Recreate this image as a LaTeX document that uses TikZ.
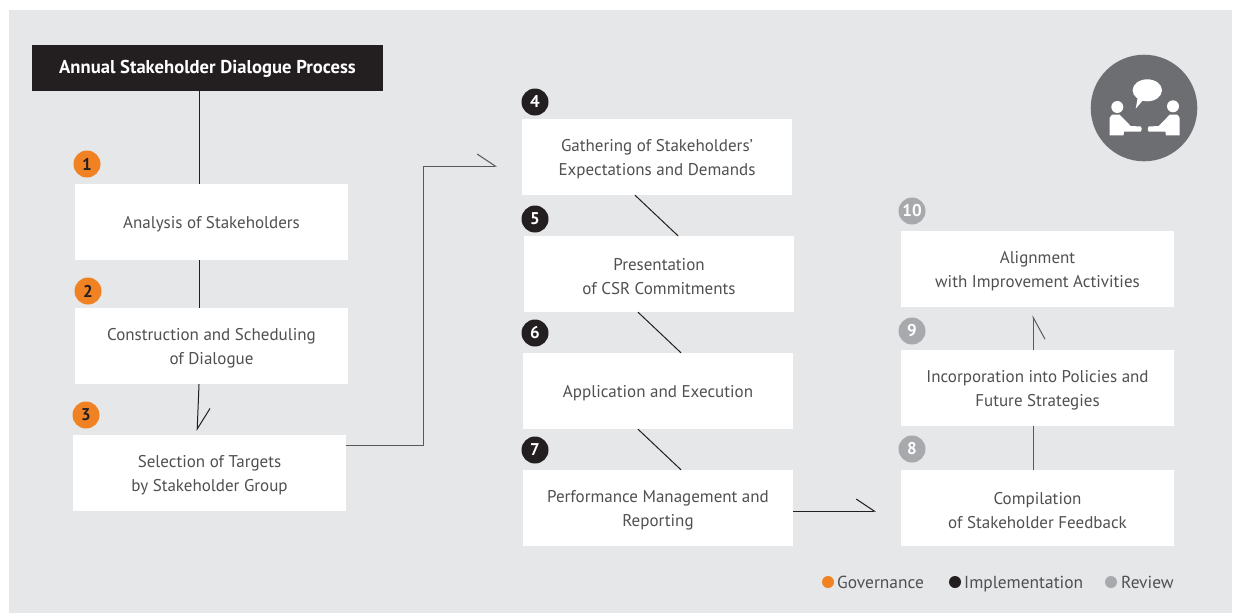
\documentclass[tikz,border=0pt]{standalone}
\usepackage{fontspec}
\setmainfont{PT Sans}
\usetikzlibrary{arrows.meta}
\definecolor{bg}{HTML}{E6E7E8}
\definecolor{ink}{HTML}{231F20}
\definecolor{txt}{HTML}{505052}
\definecolor{orng}{HTML}{F18223}
\definecolor{revw}{HTML}{A7A9AC}
\definecolor{icon}{HTML}{6D6E71}
\definecolor{lgray}{HTML}{58595B}
\tikzset{
  stepbox/.style={fill=white, minimum width=273pt, minimum height=76pt, inner sep=0pt},
  boxtxt/.style={inner sep=0pt, align=center, text=txt, font=\fontsize{17}{24}\selectfont},
  badge/.style={circle, minimum size=27pt, inner sep=0pt, font=\bfseries\fontsize{17}{17}\selectfont},
  gov/.style={badge, fill=orng, text=ink},
  impl/.style={badge, fill=ink, text=white},
  rev/.style={badge, fill=revw, text=white},
  conn/.style={draw=ink, line width=1pt},
  conng/.style={draw=lgray, line width=1pt},
  barb/.style={-{Straight Barb[harpoon, length=#1, width=24pt]}},
  barbsw/.style={-{Straight Barb[harpoon, swap, length=#1, width=24pt]}},
  legdot/.style={circle, minimum size=12pt, inner sep=0pt},
  legtxt/.style={anchor=base west, inner sep=0pt, text=txt, font=\fontsize{17.4}{18}\selectfont},
}
\begin{document}
\begin{tikzpicture}[x=1pt, y=-1pt]
\useasboundingbox (0,0) rectangle (1233,614);
\fill[white] (0,0) rectangle (1233,614);
\fill[bg] (9,10) rectangle (1232,613);

% header
\node[fill=ink, minimum width=351pt, minimum height=46pt, inner sep=0pt] (head) at (207.5,68) {};
\node[text=white, inner sep=0pt, font=\bfseries\fontsize{18.6}{20}\selectfont] (headt) at ([yshift=-1pt]head.center) {Annual Stakeholder Dialogue Process};

% boxes
\node[stepbox] (b1) at (211.5,222) {};
\node[stepbox] (b2) at (211.5,346) {};
\node[stepbox] (b3) at (209.5,473) {};
\node[stepbox, minimum width=270pt] (b4) at (657,157) {};
\node[stepbox, minimum width=270pt] (b5) at (659,274) {};
\node[stepbox, minimum width=270pt] (b6) at (658,391) {};
\node[stepbox, minimum width=270pt] (b7) at (658,508) {};
\node[stepbox] (b8) at (1037.5,508) {};
\node[stepbox] (b9) at (1037.5,388) {};
\node[stepbox] (b10) at (1037.5,269) {};

\node[boxtxt] (t1) at ([yshift=-2.5pt]b1.center) {Analysis of Stakeholders};
\node[boxtxt] (t2) at ([yshift=-2.5pt]b2.center) {Construction and Scheduling\\of Dialogue};
\node[boxtxt] (t3) at ([yshift=-2.5pt]b3.center) {Selection of Targets\\by Stakeholder Group};
\node[boxtxt] (t4) at ([yshift=-2.5pt]b4.center) {Gathering of Stakeholders’\\Expectations and Demands};
\node[boxtxt] (t5) at ([yshift=-2.5pt]b5.center) {Presentation\\of CSR Commitments};
\node[boxtxt] (t6) at ([yshift=-2.5pt]b6.center) {Application and Execution};
\node[boxtxt] (t7) at ([yshift=-2.5pt]b7.center) {Performance Management and\\Reporting};
\node[boxtxt] (t8) at ([yshift=-2.5pt]b8.center) {Compilation\\of Stakeholder Feedback};
\node[boxtxt] (t9) at ([yshift=-2.5pt]b9.center) {Incorporation into Policies and\\Future Strategies};
\node[boxtxt] (t10) at ([yshift=-2.5pt]b10.center) {Alignment\\with Improvement Activities};

% badges
\node[gov] (n1) at (87,164) {1};
\node[gov] (n2) at (88,291) {2};
\node[gov] (n3) at (86,415) {3};
\node[impl] (n4) at (535,102) {4};
\node[impl] (n5) at (535,219) {5};
\node[impl] (n6) at (535,333) {6};
\node[impl] (n7) at (535,450) {7};
\node[rev] (n8) at (912,449) {8};
\node[rev] (n9) at (912,331) {9};
\node[rev] (n10) at (912,211) {10};

% connectors
\draw[conn] ([xshift=-12pt]b1.north |- head.south) -- ([xshift=-12pt]b1.north);
\draw[conn] ([xshift=-12.5pt]b1.south) -- ([xshift=-12.5pt]b2.north);
\draw[conn, barb=21pt, shorten >=4pt] ([xshift=-12.5pt]b2.south) -- ([xshift=-12.5pt]b3.north);
\coordinate (j1) at (423,166);
\draw[conng, barb=18pt, shorten >=25pt] ([yshift=28pt]b3.east) -| (j1) -- ([yshift=-9pt]b4.west);
\draw[conn] ([xshift=-22pt]b4.south) -- ([xshift=19pt]b5.north);
\draw[conn] ([xshift=-21pt]b5.south) -- ([xshift=23pt]b6.north);
\draw[conn] ([xshift=-20pt]b6.south) -- ([xshift=23pt]b7.north);
\draw[conn, barb=18pt, shorten >=25pt] ([yshift=-3pt]b7.east) -- ([yshift=-3pt]b8.west);
\draw[conng] ([xshift=-4.5pt]b8.north) -- ([xshift=-4.5pt]b9.south);
\draw[conng, barbsw=22pt, shorten >=8pt] ([xshift=-4.5pt]b9.north) -- ([xshift=-4.5pt]b10.south);

% icon
\fill[icon] (1144,108) circle (53.3);
\fill[white] (1147.3,90.3) ellipse (14.7 and 11);
\fill[white] (1138,96) -- (1135.7,108.7) -- (1144,99) -- cycle;
\fill[white] (1117.3,107) circle (6);
\fill[white] (1173,106.3) circle (6);
\fill[white] (1109.7,135.3) -- (1109.7,117.5) to[out=-90,in=180] (1112.5,114.7) -- (1119.7,114.7)
  -- (1130.7,126) -- (1140.7,126.5) to[out=0,in=-90] (1141.6,129) to[out=90,in=0] (1140.7,131.5)
  -- (1124,131.5) -- (1123.5,135.3) -- cycle;
\fill[white] (1179.7,135.3) -- (1179.7,117.5) to[out=-90,in=0] (1176.9,114.7) -- (1169.7,114.7)
  -- (1158.7,126) -- (1148.7,126.5) to[out=180,in=-90] (1147.8,129) to[out=90,in=180] (1148.7,131.5)
  -- (1165.4,131.5) -- (1165.9,135.3) -- cycle;

% legend
\node[legdot, fill=orng] (d1) at (828,582) {};
\node[legtxt] (l1) at (837,588) {Governance};
\node[legdot, fill=ink] (d2) at (955,582) {};
\node[legtxt] (l2) at (964,588) {Implementation};
\node[legdot, fill=revw] (d3) at (1111,582) {};
\node[legtxt] (l3) at (1121,588) {Review};
\end{tikzpicture}
\end{document}
